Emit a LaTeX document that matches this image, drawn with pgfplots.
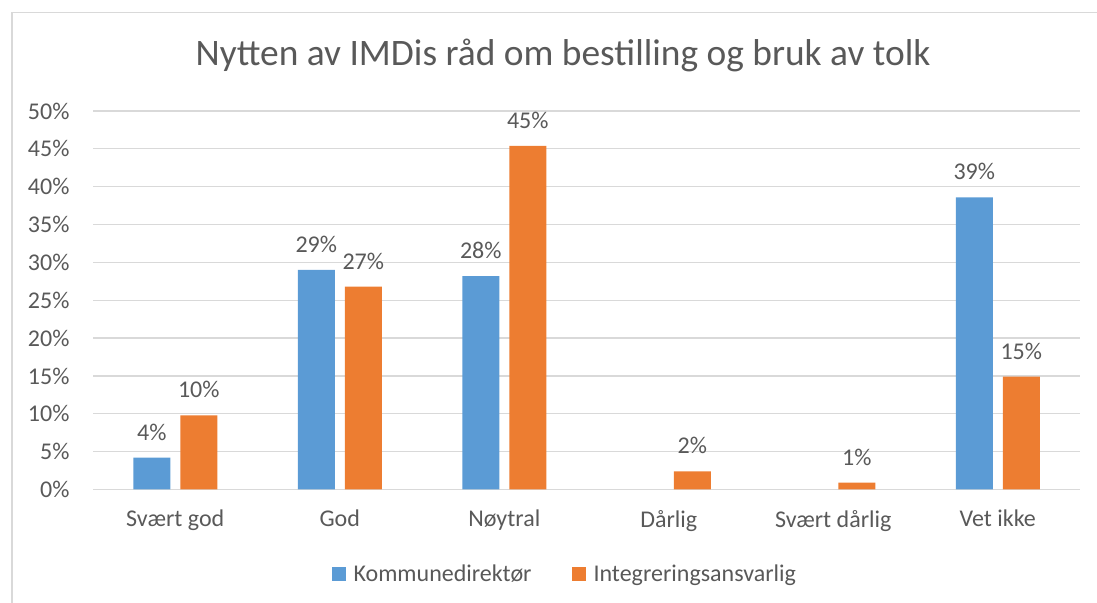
\documentclass[border=0pt]{standalone}
\usepackage{pgfplots}
\pgfplotsset{compat=1.18}
\usepackage{fontspec}
\setmainfont{Carlito}
\definecolor{txt}{HTML}{595959}
\definecolor{grd}{HTML}{D9D9D9}
\definecolor{cblue}{HTML}{5B9BD5}
\definecolor{corange}{HTML}{ED7D31}
\begin{document}
\begin{tikzpicture}
\path[use as bounding box] (0bp,0bp) rectangle (1097bp,603bp);
\draw[grd, line width=1.5bp] (12bp,-1bp) -- (12bp,590.5bp) -- (1098bp,590.5bp);
\node[txt, font=\fontsize{37.4bp}{42bp}\selectfont, anchor=base] at (563bp,537bp) {Nytten av IMDis råd om bestilling og bruk av tolk};
\begin{axis}[
  at={(93bp,113.5bp)}, anchor=south west,
  scale only axis, width=987bp, height=378.5bp,
  ybar=10bp, bar width=37bp,
  xmin=-0.5, xmax=5.5, ymin=0, ymax=50,
  xtick={0,1,2,3,4,5},
  xticklabels={Svært god, God, Nøytral, Dårlig, Svært dårlig, Vet ikke},
  ytick={0,5,10,15,20,25,30,35,40,45,50},
  yticklabel={\pgfmathprintnumber{\tick}\%},
  /pgf/number format/assume math mode=true,
  major tick length=0pt,
  axis line style={draw=none},
  ymajorgrids, grid style={grd, line width=1.2bp},
  tick label style={txt, font=\fontsize{24bp}{28bp}\selectfont},
  yticklabel style={xshift=-20bp},
  xticklabel style={yshift=-17bp},
  nodes near coords={\pgfmathprintnumber[fixed,precision=0]{\pgfplotspointmeta}\%},
  nodes near coords style={txt, font=\fontsize{24bp}{28bp}\selectfont, anchor=south, inner sep=0pt, yshift=17bp},
  legend style={draw=none, at={(0.478,-0.223)}, anchor=center, legend columns=2,
    font=\fontsize{24bp}{28bp}\selectfont, text=txt, inner sep=0pt,
    /tikz/every even column/.append style={column sep=38bp}},
  legend image code/.code={\fill[#1] (0bp,-7bp) rectangle (14bp,7bp); \path (20bp,0bp);},
]
\addplot[fill=cblue, draw=none] coordinates {(0,4.2) (1,29.0) (2,28.2) (5,38.6)};
\addplot[fill=corange, draw=none] coordinates {(0,9.8) (1,26.8) (2,45.4) (3,2.4) (4,0.9) (5,14.9)};
\legend{Kommunedirektør, Integreringsansvarlig}
\end{axis}
\end{tikzpicture}
\end{document}
